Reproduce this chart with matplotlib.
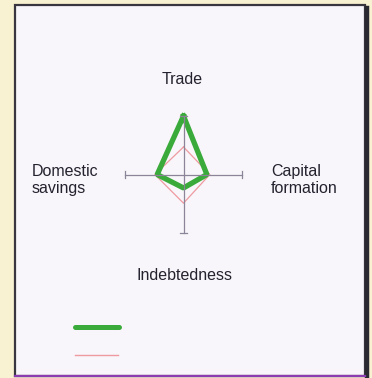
import matplotlib.pyplot as plt
import numpy as np
from matplotlib.lines import Line2D
from matplotlib.patches import Rectangle

plt.rcParams['font.family'] = ['Liberation Sans', 'DejaVu Sans']

# axes order: top, right, bottom, left (clockwise from Trade)
axes_names = ['Trade', 'Capital formation', 'Indebtedness', 'Domestic savings']
series_main = [1.00, 0.40, 0.23, 0.45]
series_ref = [0.47, 0.45, 0.49, 0.49]

W, H = 372, 378
fig = plt.figure(figsize=(W / 100, H / 100), dpi=100)
fig.patch.set_facecolor('#f8f1d2')

# white card with a dark scanned-looking frame
fig.add_artist(Rectangle((15 / W, 1 - 376 / H), 350 / W, 371 / H, transform=fig.transFigure,
                         facecolor='#f8f6fa', edgecolor='#3a3640', lw=1.6, zorder=-2))
fig.add_artist(Line2D([366.5 / W, 366.5 / W], [1 - 8 / H, 1 - 376 / H], transform=fig.transFigure,
                      color='#2a2830', lw=3.2, zorder=-1))
fig.add_artist(Line2D([15 / W, 365 / W], [1 - 375.5 / H, 1 - 375.5 / H], transform=fig.transFigure,
                      color='#8a3cb0', lw=1.6, zorder=-1))

# radar axes: centre (183.5, 174.5) px, radius 58.5 px
cx, cy, r = 183.5, 174.5, 58.5
ax = fig.add_axes([(cx - r) / W, 1 - (cy + r) / H, 2 * r / W, 2 * r / H])
ax.set_xlim(-1, 1)
ax.set_ylim(-1, 1)
ax.axis('off')

angles = np.pi / 2 - np.arange(len(axes_names)) * np.pi / 2


def radar(vals, **kw):
    v = np.array(vals + vals[:1])
    a = np.append(angles, angles[0])
    ax.plot(v * np.cos(a), v * np.sin(a), clip_on=False, **kw)


radar(series_ref, color='#ee9aa0', lw=0.9)
radar(series_main, color='#3aaa3a', lw=3.8, solid_joinstyle='bevel')

# axes with end ticks, drawn over the series
axis_col = '#8c8498'
ax.plot([-1, 1], [0, 0], color=axis_col, lw=0.9, clip_on=False)
ax.plot([0, 0], [-1, 1], color=axis_col, lw=0.9, clip_on=False)
t = 0.06
for a in angles:
    x, y = np.cos(a), np.sin(a)
    ax.plot([x - t * np.sin(a), x + t * np.sin(a)], [y - t * np.cos(a), y + t * np.cos(a)],
            color=axis_col, lw=0.9, clip_on=False)

txt = dict(fontsize=11.5, color='#24222e', transform=fig.transFigure)
fig.text(182 / W, 1 - 80 / H, axes_names[0], ha='center', va='center', **txt)
fig.text(271 / W, 1 - 180 / H, 'Capital\nformation', ha='left', va='center', linespacing=1.2, **txt)
fig.text(184 / W, 1 - 275 / H, axes_names[2], ha='center', va='center', **txt)
fig.text(32 / W, 1 - 180 / H, 'Domestic\nsavings', ha='left', va='center', linespacing=1.2, **txt)

# legend swatches without labels
fig.add_artist(Line2D([75 / W, 119 / W], [1 - 327 / H, 1 - 327 / H], transform=fig.transFigure,
                      color='#3aaa3a', lw=3.6, solid_capstyle='round'))
fig.add_artist(Line2D([75 / W, 118 / W], [1 - 355 / H, 1 - 355 / H], transform=fig.transFigure,
                      color='#ee9aa0', lw=1.0))

fig.savefig('out.png', dpi=100)
